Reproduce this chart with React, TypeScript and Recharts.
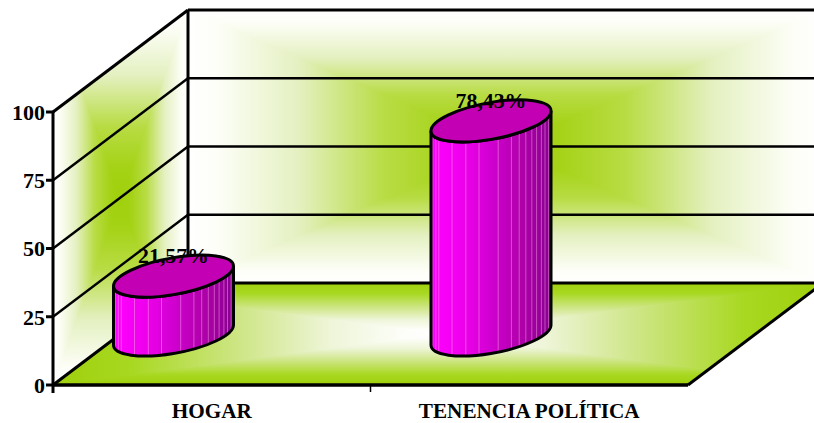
import { BarChart, Bar, XAxis, YAxis, LabelList, Customized } from 'recharts'

const categories = ['HOGAR', 'TENENCIA POLÍTICA']
const percentages = [21.57, 78.43]
const labels = ['21,57%', '78,43%']
const yTicks = [0, 25, 50, 75, 100]

const data = categories.map((name, i) => ({ name, value: percentages[i], label: labels[i] }))

const WIDTH = 814
const HEIGHT = 423
const LEFT = 53
const RIGHT = 688
const TOP = 112
const BOTTOM = 385
// depth of the fake 3d box
const DEPTH_X = 135
const DEPTH_Y = 102
// excel puts the cylinders here, not in the middle of the band
const CYL_DX = -38.5
const CYL_DY = -50
const FONT = '"Liberation Serif", "Times New Roman", serif'

const FACETS = [-0.97, -0.92, -0.87, -0.65, -0.42, -0.2, 0.12, 0.34, 0.47, 0.58, 0.68, 0.76, 0.84, 0.9, 0.96]

const lineY = (v: number) => BOTTOM - ((BOTTOM - TOP) * v) / 100

// rectangular "path" gradient over the bounding box of the polygon, clipped to it.
// horizontal rect underneath, top and bottom triangles over it
function Panel({ id, points, kind }: { id: string; points: number[][]; kind: string }) {
  const xs = points.map((p) => p[0])
  const ys = points.map((p) => p[1])
  const x0 = Math.min(...xs)
  const y0 = Math.min(...ys)
  const w = Math.max(...xs) - x0
  const h = Math.max(...ys) - y0
  return (
    <g clipPath={`url(#${id})`}>
      <clipPath id={id}>
        <polygon points={points.map((p) => p.join(',')).join(' ')} />
      </clipPath>
      <g transform={`matrix(${w},0,0,${h},${x0},${y0})`}>
        <rect x={0} y={0} width={1} height={1} fill={`url(#${kind}H)`} />
        <polygon points="0,0 1,0 0.5,0.5" fill={`url(#${kind}V)`} />
        <polygon points="0,1 1,1 0.5,0.5" fill={`url(#${kind}V)`} />
      </g>
    </g>
  )
}

const wallStops = [
  [0, '#ffffff'],
  [0.1, '#fcfef6'],
  [0.35, '#e4f0c0'],
  [0.62, '#b8dc44'],
  [0.85, '#a4d214'],
  [1, '#9fd00c'],
] as const
const floorStops = [
  [0, '#9fd00c'],
  [0.2, '#a8d820'],
  [0.49, '#cfe688'],
  [0.72, '#eef5d8'],
  [0.92, '#fdfefa'],
  [1, '#ffffff'],
] as const

function Grad({ id, stops, vertical }: { id: string; stops: readonly (readonly [number, string])[]; vertical?: boolean }) {
  return (
    <linearGradient
      id={id}
      gradientUnits="userSpaceOnUse"
      spreadMethod="reflect"
      x1={0}
      y1={0}
      x2={vertical ? 0 : 0.5}
      y2={vertical ? 0.5 : 0}
    >
      {stops.map(([offset, color]) => (
        <stop key={offset} offset={offset} stopColor={color} />
      ))}
    </linearGradient>
  )
}

function Frame() {
  const bandW = (RIGHT - LEFT) / categories.length
  const backL = LEFT + DEPTH_X
  const backR = RIGHT + DEPTH_X
  const backT = TOP - DEPTH_Y
  const backB = BOTTOM - DEPTH_Y
  return (
    <g>
      <defs>
        <Grad id="wallH" stops={wallStops} />
        <Grad id="wallV" stops={wallStops} vertical />
        <Grad id="floorH" stops={floorStops} />
        <Grad id="floorV" stops={floorStops} vertical />
        <linearGradient id="cylBody" x1="0" y1="0" x2="1" y2="0">
          <stop offset={0} stopColor="#ff00ff" />
          <stop offset={0.25} stopColor="#f000ee" />
          <stop offset={0.5} stopColor="#d000d0" />
          <stop offset={0.75} stopColor="#b000aa" />
          <stop offset={1} stopColor="#880090" />
        </linearGradient>
      </defs>

      <Panel id="backClip" kind="wall" points={[[backL, backT], [backR, backT], [backR, backB], [backL, backB]]} />
      <Panel id="sideClip" kind="wall" points={[[LEFT, TOP], [backL, backT], [backL, backB], [LEFT, BOTTOM]]} />
      <Panel id="floorClip" kind="floor" points={[[backL, backB], [backR, backB], [RIGHT, BOTTOM], [LEFT, BOTTOM]]} />

      {yTicks.map((t) => (
        <g key={t} stroke="#000" strokeWidth={t === 0 || t === 100 ? 3 : 2.4}>
          <line x1={LEFT} y1={lineY(t)} x2={backL} y2={lineY(t) - DEPTH_Y} />
          <line x1={backL} y1={lineY(t) - DEPTH_Y} x2={WIDTH} y2={lineY(t) - DEPTH_Y} />
        </g>
      ))}
      <line x1={backL} y1={backT} x2={backL} y2={backB} stroke="#000" strokeWidth={3} />
      <line x1={RIGHT} y1={BOTTOM} x2={backR} y2={backB} stroke="#000" strokeWidth={3} />
      <line x1={LEFT} y1={BOTTOM} x2={LEFT} y2={BOTTOM + 8} stroke="#000" strokeWidth={3} />
      <line x1={LEFT + bandW} y1={BOTTOM} x2={LEFT + bandW} y2={BOTTOM + 7} stroke="#000" strokeWidth={1.5} />
    </g>
  )
}

function Cylinder(props: any) {
  const { x, y, width, height } = props
  const cx = x + width / 2 + CYL_DX
  const cy = y + CYL_DY
  const rx = width / 2
  // ellipse is a sheared circle, tilted up to the right
  const shear = -10
  const ry = 18.5
  const h = height / ry
  return (
    <g transform={`matrix(${rx},${shear},0,${ry},${cx},${cy})`}>
      <path
        d={`M-1,0 L-1,${h} A1,1 0 0 0 1,${h} L1,0 A1,1 0 0 1 -1,0 Z`}
        fill="url(#cylBody)"
        stroke="none"
      />
      {FACETS.map((f) => (
        <line
          key={f}
          x1={f}
          y1={Math.sqrt(1 - f * f)}
          x2={f}
          y2={h + Math.sqrt(1 - f * f)}
          stroke="#ffb0e8"
          strokeOpacity={0.45}
          strokeWidth={1}
          vectorEffect="non-scaling-stroke"
        />
      ))}
      <path
        d={`M-1,0 L-1,${h} A1,1 0 0 0 1,${h} L1,0 A1,1 0 0 1 -1,0 Z`}
        fill="none"
        stroke="#000"
        strokeWidth={3}
        vectorEffect="non-scaling-stroke"
      />
      <circle cx={0} cy={0} r={1} fill="#c400b4" stroke="#000" strokeWidth={3} vectorEffect="non-scaling-stroke" />
    </g>
  )
}

function BarLabel(props: any) {
  const { x, y, width, value } = props
  return (
    <text
      x={x + width / 2 + CYL_DX}
      y={y + CYL_DY - 13}
      textAnchor="middle"
      fontFamily={FONT}
      fontWeight="bold"
      fontSize={21.8}
      fill="#000"
    >
      {value}
    </text>
  )
}

export default function App() {
  const xTick = { fontFamily: FONT, fontWeight: 'bold', fontSize: 21.2, fill: '#000' }
  const yTick = { fontFamily: FONT, fontWeight: 'bold', fontSize: 22, fill: '#000' }
  return (
    <div style={{ position: 'absolute', left: 0, top: 0, width: WIDTH, height: HEIGHT, overflow: 'hidden', background: '#fff' }}>
      <BarChart
        width={WIDTH}
        height={HEIGHT}
        data={data}
        margin={{ top: TOP, right: WIDTH - RIGHT, bottom: 0, left: 0 }}
      >
        <Customized component={Frame} />
        <XAxis
          dataKey="name"
          height={HEIGHT - BOTTOM}
          tick={xTick}
          tickLine={false}
          tickMargin={12}
          axisLine={{ stroke: '#000', strokeWidth: 3.4 }}
          interval={0}
        />
        <YAxis
          domain={[0, 100]}
          ticks={yTicks}
          width={LEFT}
          tick={yTick}
          tickSize={7}
          tickMargin={1}
          tickLine={{ stroke: '#000', strokeWidth: 3 }}
          axisLine={{ stroke: '#000', strokeWidth: 3 }}
        />
        <Bar dataKey="value" barSize={120} shape={<Cylinder />} isAnimationActive={false}>
          <LabelList dataKey="label" content={<BarLabel />} />
        </Bar>
      </BarChart>
    </div>
  )
}
